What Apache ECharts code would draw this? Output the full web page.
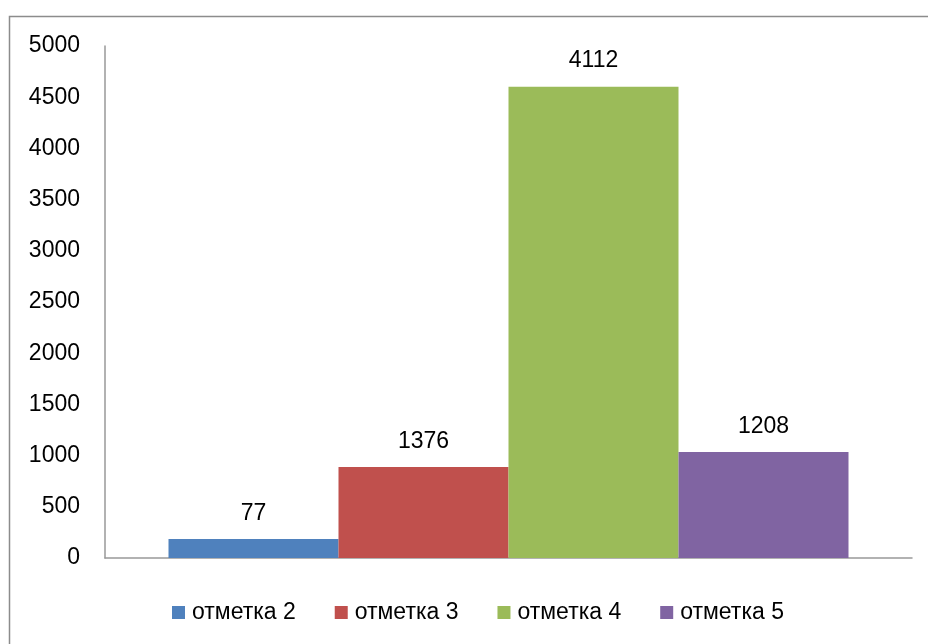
<!DOCTYPE html>
<html><head><meta charset="utf-8">
<script src="https://cdn.jsdelivr.net/npm/echarts@6/dist/echarts.min.js"></script>
<style>html,body{margin:0;padding:0;background:#fff}#c{width:928px;height:644px}</style>
</head><body><div id="c"></div>
<script>
var categories = [''];
var seriesNames = ['отметка 2', 'отметка 3', 'отметка 4', 'отметка 5'];
var barValues = [185, 889, 4603, 1035];
var barLabels = ['77', '1376', '4112', '1208'];
var yTicks = [0, 500, 1000, 1500, 2000, 2500, 3000, 3500, 4000, 4500, 5000];
var colors = ['#4F81BD', '#C0504D', '#9BBB59', '#8064A2'];

var chart = echarts.init(document.getElementById('c'));
var font = 'Liberation Sans, Arial, sans-serif';
var series = seriesNames.map(function (n, i) {
  return {
    name: n, type: 'bar', data: [barValues[i]], barWidth: 170, barGap: '0%',
    itemStyle: { color: colors[i] },
    label: { show: true, position: 'top', distance: 14, formatter: function () { return barLabels[i]; },
      color: '#000', fontSize: 23, fontFamily: font }
  };
});
chart.setOption({
  animation: false,
  graphic: [{ type: 'rect', shape: { x: 9.5, y: 16.5, width: 1000, height: 1000 }, style: { fill: 'none', stroke: '#8c8c8c', lineWidth: 1.5 }, silent: true }],
  grid: { left: 105, right: 16, top: 46, bottom: 86, containLabel: false },
  legend: {
    data: seriesNames, left: 167, top: 596, itemWidth: 13, itemHeight: 13, itemGap: 39,
    icon: 'rect', textStyle: { fontSize: 23, fontFamily: font, color: '#000', padding: [0, 0, 0, 2] }
  },
  xAxis: { type: 'category', data: categories, axisLine: { lineStyle: { color: '#999', width: 1.5 } }, axisTick: { show: false }, axisLabel: { show: false } },
  yAxis: {
    type: 'value', min: yTicks[0], max: yTicks[yTicks.length - 1], interval: 500,
    axisLine: { show: true, lineStyle: { color: '#999', width: 1.5 } }, axisTick: { show: false },
    splitLine: { show: false },
    axisLabel: { margin: 25, fontSize: 23, fontFamily: font, color: '#000', formatter: function (v) { return String(v); } }
  },
  series: series
});
</script></body></html>
